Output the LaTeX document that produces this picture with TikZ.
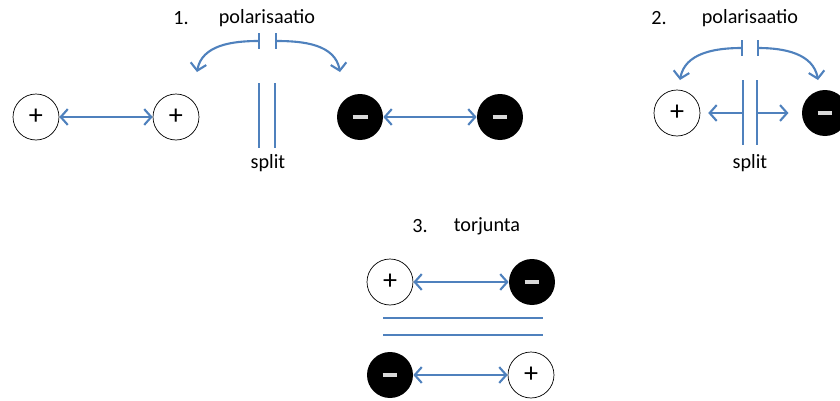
\documentclass[tikz,border=0pt]{standalone}
\usepackage{fontspec}
\setmainfont{Carlito}
\usepackage{tikz}
\usetikzlibrary{arrows.meta}
\usetikzlibrary{positioning}

\definecolor{lineblue}{RGB}{79,129,189}

\newcommand{\minusbar}{\rule{0.3cm}{0.08cm}}

\tikzset{
    poscharge/.style={draw=black, circle, minimum size=0.92cm, inner sep=0pt, font=\fontsize{16}{16}\selectfont},
    negcharge/.style={fill=black, circle, minimum size=0.92cm, inner sep=0pt, text=white!85!black},
    bluelink/.style={draw=lineblue, line width=1.2pt, >={Straight Barb[length=4pt,width=9pt]}},
    arcarrow/.style={bluelink, {Bar[width=9pt]}->},
    splitwall/.style={draw=lineblue, line width=1.2pt},
    steplabel/.style={font=\fontsize{11.5}{13}\selectfont}
}

\begin{document}
\begin{tikzpicture}[x=0.02cm, y=-0.02cm]
        \useasboundingbox (0,0) rectangle (840,400);

        % 1.
        \node(n1) [steplabel] at (181,18) {1.};
        \node(pol1) [steplabel] at (267,18) {polarisaatio};
        \node(split1) [steplabel] at (268,163) {split};

        \node(a1) [poscharge] at (36,117) {+};
        \node(a2) [poscharge] at (176,117) {+};
        \node(b1) [negcharge] at (360,117) {\minusbar};
        \node(b2) [negcharge] at (500,117) {\minusbar};

        \coordinate(t1l) at (260,41);
        \coordinate(t1r) at (275,41);
        \coordinate(e1l) at (197,72);
        \coordinate(e1r) at (340,72);
        \draw[arcarrow] (t1l) to[out=180, in=80] (e1l);
        \draw[arcarrow] (t1r) to[out=0, in=100] (e1r);

        \coordinate(s1a) at (259,83);
        \coordinate(s1b) at (259,148);
        \coordinate(s1c) at (275,83);
        \coordinate(s1d) at (275,148);
        \draw[splitwall] (s1a) -- (s1b);
        \draw[splitwall] (s1c) -- (s1d);

        \draw[bluelink, <->] (a1) -- (a2);
        \draw[bluelink, <->] (b1) -- (b2);

        % 2.
        \node(n2) [steplabel] at (659,18) {2.};
        \node(pol2) [steplabel] at (750,18) {polarisaatio};
        \node(split2) [steplabel] at (750,163) {split};

        \node(a3) [poscharge] at (677,113) {+};
        \node(b3) [negcharge] at (825,113) {\minusbar};

        \coordinate(t2l) at (743,48);
        \coordinate(t2r) at (757,48);
        \coordinate(e2l) at (680,80);
        \coordinate(e2r) at (818,80);
        \draw[arcarrow] (t2l) to[out=180, in=80] (e2l);
        \draw[arcarrow] (t2r) to[out=0, in=100] (e2r);

        \coordinate(s2a) at (743,80);
        \coordinate(s2b) at (743,145);
        \coordinate(s2c) at (757,80);
        \coordinate(s2d) at (757,145);
        \draw[splitwall] (s2a) -- (s2b);
        \draw[splitwall] (s2c) -- (s2d);

        \coordinate(m2l) at (743,113);
        \coordinate(m2r) at (757,113);
        \draw[bluelink, ->, shorten >=4.5pt] (m2l) -- (a3);
        \draw[bluelink, ->, shorten >=7.5pt] (m2r) -- (b3);

        % 3.
        \node(n3) [steplabel] at (420,226) {3.};
        \node(torj) [steplabel] at (487,226) {torjunta};

        \node(a4) [poscharge] at (390,282) {+};
        \node(b4) [negcharge] at (532,282) {\minusbar};
        \node(b5) [negcharge] at (390,375) {\minusbar};
        \node(a5) [poscharge] at (531,375) {+};

        \coordinate(w1a) at (383,318);
        \coordinate(w1b) at (543,318);
        \coordinate(w2a) at (383,335);
        \coordinate(w2b) at (543,335);
        \draw[splitwall] (w1a) -- (w1b);
        \draw[splitwall] (w2a) -- (w2b);

        \draw[bluelink, <->] (a4) -- (b4);
        \draw[bluelink, <->] (b5) -- (a5);
    \end{tikzpicture}
\end{document}
